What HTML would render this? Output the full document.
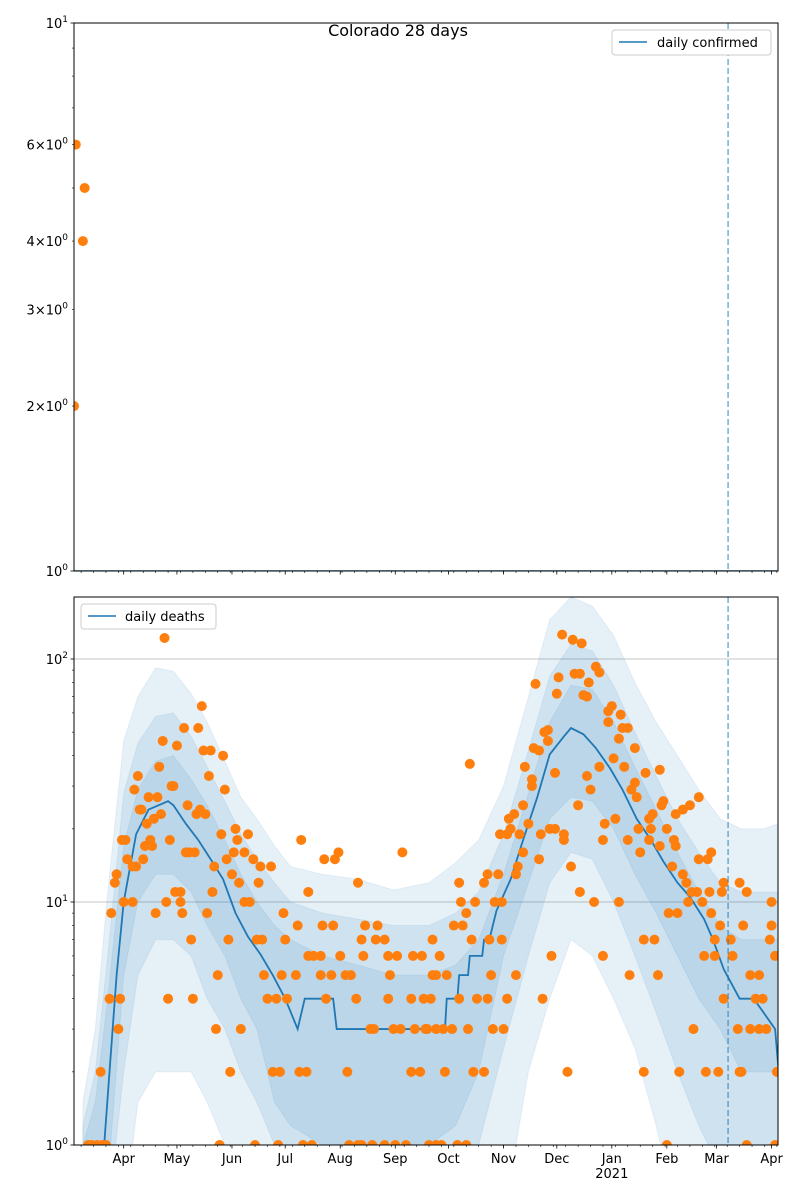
<!DOCTYPE html>
<html><head><meta charset="utf-8"><style>
body{margin:0;background:#fff}
svg{display:block;font-family:"DejaVu Sans","Liberation Sans",sans-serif}
</style></head><body>
<svg id="chart" width="800" height="1200" viewBox="0 0 800 1200" xmlns="http://www.w3.org/2000/svg">
<defs>
<clipPath id="clipTop"><rect x="74" y="23" width="704" height="548"/></clipPath>
<clipPath id="clipBot"><rect x="74" y="597" width="704" height="548"/></clipPath>
</defs>
<rect width="800" height="1200" fill="#fff"/>
<text x="398" y="36" font-size="16" text-anchor="middle">Colorado 28 days</text>
<g id="topPanel"></g>
<g id="botPanel"></g>
</svg>
<script>
// ---- data (day 0 = 2020-03-04) ----
const monthDays = [28,58,89,119,150,181,211,242,272,303,334,362,393];
const monthLabels = ["Apr","May","Jun","Jul","Aug","Sep","Oct","Nov","Dec","Jan","Feb","Mar","Apr"];
const forecastDay = 368.5;
const confirmedObs = [[0,2],[1,6],[5,4],[6,5]];
const confirmedLineDays = [0,397];
const confirmedLineVals = [1,1];
const medDays = [0,17,20,24,28,35,42,53,56,63,70,77,84,91,98,105,112,119,126,130,146,148,209,210,216,217,222,223,230,231,234,238,246,253,261,268,276,280,287,294,302,309,317,325,332,340,347,355,360,366,375,383,395,397];
const medVals = [0.5,1,2,5,10,19,24,26,25,21,18,15,12.4,9,7.2,6.1,5,4,3,4,4,3,3,4,4,5,5,6,6,7,7,9.2,12.4,18,27,40.5,48,52,49,43,35.5,29,22,18,14.7,12,10.5,8.5,7,5.3,4,4,3,2];
const bandDays = [5,12,19,28,36,46,56,66,75,85,94,103,113,122,140,160,180,200,215,228,242,256,268,280,292,304,316,328,340,352,364,376,388,397];
const outerHi = [1.5,3,11,46,70,92,89,72,55,38,27,22,17,14,13,12.4,11.2,12,14.5,18,30,70,145,180,165,125,80,55,40,29,22,20,20,21];
const midHi = [1.2,2,6,28,45,58,60,48,36,26,19,15,12,10,9,8.5,8,8,9,11,19,42,85,115,108,78,50,33,22,16,12,11,11,11];
const innerHi = [1,1.5,4,17,29,38,40,32,25,18,13,10,8,7,6,5.5,5,5,5.5,7,13,28,55,78,75,55,36,24,16,11,8,7,7,7];
const innerLo = [0.5,0.5,0.7,5,10,13,13,11,8,6,4,3,1.5,1.2,1,1,1,1,1.2,2,6,12,22,27,26,20,13,9,6,4,3,2,2,2];
const midLo = [0.5,0.5,0.5,2,5,7,7,6,4,3,2,1.5,1,0.7,0.5,0.5,0.5,0.5,0.5,1,2.5,6,12,16,15,10,6,3.5,2,1.2,0.8,0.5,0.5,0.5];
const outerLo = [0.3,0.3,0.3,0.5,1.5,2,2,2,1.5,1,0.5,0.5,0.5,0.5,0.5,0.5,0.5,0.5,0.5,0.5,0.5,2,4,7,6,4,2.5,1.2,0.5,0.5,0.5,0.5,0.5,0.5];
const deathObs = [[51,122],[72,64],[62,52],[70,52],[50,46],[58,44],[73,42],[77,42],[84,40],[48,36],[36,33],[76,33],[34,29],[85,29],[42,27],[47,27],[55,30],[56,30],[64,25],[37,24],[38,24],[49,23],[45,22],[69,23],[71,24],[74,23],[41,21],[83,19],[91,20],[98,19],[92,18],[128,18],[27,18],[29,18],[40,17],[44,17],[43,18],[54,18],[63,16],[65,16],[68,16],[90,16],[96,16],[141,15],[147,15],[149,16],[185,16],[30,15],[33,14],[35,14],[39,15],[86,15],[101,15],[105,14],[111,14],[24,13],[23,12],[79,14],[89,13],[93,12],[104,12],[160,12],[57,11],[60,11],[78,11],[132,11],[28,10],[33,10],[52,10],[60,10],[96,10],[99,10],[21,9],[46,9],[61,9],[75,9],[118,9],[126,8],[140,8],[146,8],[164,8],[171,8],[66,7],[87,7],[103,7],[106,7],[119,7],[162,7],[170,7],[175,7],[202,7],[132,6],[135,6],[139,6],[150,6],[163,6],[177,6],[182,6],[191,6],[196,6],[81,5],[107,5],[117,5],[125,5],[139,5],[145,5],[153,5],[156,5],[178,5],[202,5],[20,4],[26,4],[53,4],[67,4],[109,4],[114,4],[120,4],[142,4],[159,4],[177,4],[190,4],[197,4],[201,4],[25,3],[80,3],[94,3],[167,3],[169,3],[180,3],[184,3],[192,3],[199,3],[15,2],[88,2],[112,2],[116,2],[127,2],[131,2],[154,2],[190,2],[195,2],[8,1],[10,1],[13,1],[16,1],[18,1],[82,1],[102,1],[115,1],[129,1],[134,1],[155,1],[160,1],[162,1],[168,1],[175,1],[181,1],[187,1],[200,1],
[275,126],[281,120],[286,116],[294,93],[296,88],[273,84],[282,87],[285,87],[260,79],[290,80],[272,72],[287,71],[289,70],[303,64],[301,61],[308,59],[301,55],[309,52],[312,52],[267,51],[265,50],[307,47],[267,46],[259,43],[262,42],[316,43],[304,39],[223,37],[254,36],[310,36],[296,36],[271,34],[322,34],[330,35],[289,33],[258,32],[258,30],[316,31],[314,29],[317,27],[291,29],[253,25],[284,25],[332,26],[331,25],[352,27],[347,25],[343,24],[339,23],[248,23],[245,22],[326,23],[324,22],[305,22],[256,21],[299,21],[246,20],[240,19],[244,19],[251,19],[263,19],[268,20],[271,20],[276,19],[276,18],[318,20],[325,20],[334,20],[298,18],[312,18],[324,18],[338,18],[339,17],[330,17],[253,16],[319,16],[359,16],[352,15],[357,15],[262,15],[250,14],[249,13],[233,13],[239,13],[280,14],[337,14],[343,13],[217,12],[231,12],[345,12],[366,12],[375,12],[285,11],[348,11],[351,11],[358,11],[365,11],[379,11],[218,10],[226,10],[237,10],[241,10],[293,10],[307,10],[346,10],[354,10],[393,10],[221,9],[335,9],[340,9],[359,9],[214,8],[219,8],[364,8],[377,8],[393,8],[224,7],[234,7],[241,7],[321,7],[327,7],[361,7],[370,7],[392,7],[206,6],[269,6],[298,6],[355,6],[361,6],[371,6],[395,6],[204,5],[210,5],[235,5],[249,5],[313,5],[329,5],[381,5],[386,5],[217,4],[227,4],[233,4],[244,4],[264,4],[366,4],[384,4],[388,4],[198,3],[204,3],[208,3],[213,3],[222,3],[236,3],[242,3],[349,3],[374,3],[381,3],[386,3],[390,3],[209,2],[225,2],[231,2],[278,2],[321,2],[341,2],[356,2],[363,2],[375,2],[376,2],[396,2],[204,1],[207,1],[216,1],[221,1],[334,1],[379,1],[395,1]];

// ---- scales ----
const X0 = 74, X1 = 778, PXD = 1.775;
const xs = d => X0 + d * PXD;
const yTop = v => 571 - Math.log10(v) * 548;
const yBot = v => 1145 - Math.log10(v) * 243;
const NS = "http://www.w3.org/2000/svg";
function mk(parent, tag, attrs) {
  const e = document.createElementNS(NS, tag);
  for (const k in attrs) e.setAttribute(k, attrs[k]);
  parent.appendChild(e);
  return e;
}
const topG = document.getElementById("topPanel");
const botG = document.getElementById("botPanel");

function frame(g, y0, y1, name) {
  const r = mk(g, "rect", {x: X0, y: y0, width: X1 - X0, height: y1 - y0, fill: "none", stroke: "#000", "stroke-width": 1});
  
  
}
function xAxis(g, yb, labels) {
  for (let d = 4; d < 397; d += 7) {
    const t = mk(g, "line", {x1: xs(d), x2: xs(d), y1: yb, y2: yb + 2, stroke: "#000", "stroke-width": 0.6});
    
    
  }
  monthDays.forEach((d, i) => {
    const t = mk(g, "line", {x1: xs(d), x2: xs(d), y1: yb, y2: yb + 3.5, stroke: "#000", "stroke-width": 0.8});
    
    
    if (labels) {
      const tx = mk(g, "text", {x: xs(d), y: yb + 18, "font-size": 13, "text-anchor": "middle"});
      tx.textContent = monthLabels[i];
      
      
    }
  });
  if (labels) {
    const yr = mk(g, "text", {x: xs(303), y: yb + 33, "font-size": 13, "text-anchor": "middle"});
    yr.textContent = "2021";
    
    
  }
}
function yLabel(g, y, pre, exp) {
  const t = mk(g, "text", {x: 68, y: y + 5, "font-size": 13, "text-anchor": "end"});
  
  
  const a = document.createElementNS(NS, "tspan"); a.textContent = pre + "10"; t.appendChild(a);
  const b = document.createElementNS(NS, "tspan"); b.setAttribute("dy", -6); b.setAttribute("font-size", 9); b.textContent = exp; t.appendChild(b);
}
function yTick(g, y, major) {
  const t = mk(g, "line", {x1: X0 - (major ? 3.5 : 2), x2: X0, y1: y, y2: y, stroke: "#000", "stroke-width": major ? 0.8 : 0.6});
  
  
}
function dashed(g, y0, y1) {
  const l = mk(g, "line", {x1: xs(forecastDay), x2: xs(forecastDay), y1: y0, y2: y1, stroke: "#1f77b4", "stroke-opacity": 0.6, "stroke-width": 1.5, "stroke-dasharray": "6,3"});
  
  
}

// ---- top panel ----
for (let m = 2; m <= 9; m++) yTick(topG, yTop(m), false);
yTick(topG, yTop(1), true); yTick(topG, yTop(10), true);
yLabel(topG, yTop(10), "", "1"); yLabel(topG, yTop(1), "", "0");
[6,4,3,2].forEach(m => yLabel(topG, yTop(m), m + "×", "0"));
const tc = mk(topG, "g", {"clip-path": "url(#clipTop)"});
const cl = mk(tc, "polyline", {points: confirmedLineDays.map((d, i) => xs(d) + "," + yTop(confirmedLineVals[i])).join(" "), fill: "none", stroke: "#1f77b4", "stroke-width": 1.5});


confirmedObs.forEach(p => {
  const c = mk(tc, "circle", {cx: xs(p[0]), cy: yTop(p[1]), r: 5, fill: "#ff7f0e"});
  
  
});
dashed(topG, 23, 571);
frame(topG, 23, 571, "top-axes-frame");
xAxis(topG, 571, false);
const lt = mk(topG, "g", {});


mk(lt, "rect", {x: 612, y: 30, width: 159, height: 25, rx: 3, fill: "#fff", stroke: "#ccc"});
mk(lt, "line", {x1: 619, x2: 647, y1: 42, y2: 42, stroke: "#1f77b4", "stroke-width": 1.5});
const ltt = mk(lt, "text", {x: 657, y: 47, "font-size": 13}); ltt.textContent = "daily confirmed";

// ---- bottom panel ----
[10, 100].forEach(v => {
  const gl = mk(botG, "line", {x1: X0, x2: X1, y1: yBot(v), y2: yBot(v), stroke: "#b0b0b0", "stroke-width": 0.8});
  
  
});
const bc = mk(botG, "g", {"clip-path": "url(#clipBot)"});
function band(hi, lo, name) {
  let pts = bandDays.map((d, i) => xs(d) + "," + yBot(hi[i]));
  for (let i = bandDays.length - 1; i >= 0; i--) pts.push(xs(bandDays[i]) + "," + yBot(lo[i]));
  const p = mk(bc, "polygon", {points: pts.join(" "), fill: "#1f77b4", "fill-opacity": 0.11, stroke: "#1f77b4", "stroke-opacity": 0.08});
  
  
}
band(outerHi, outerLo, "band-outer");
band(midHi, midLo, "band-middle");
band(innerHi, innerLo, "band-inner");
const ml = mk(bc, "polyline", {points: medDays.map((d, i) => xs(d) + "," + yBot(medVals[i])).join(" "), fill: "none", stroke: "#1f77b4", "stroke-width": 1.8});


deathObs.forEach(p => {
  const c = mk(bc, "circle", {cx: xs(p[0]), cy: yBot(p[1]), r: 5, fill: "#ff7f0e"});
  
  
});
dashed(botG, 597, 1145);
frame(botG, 597, 1145, "bottom-axes-frame");
xAxis(botG, 1145, true);
[1, 10, 100].forEach(v => yTick(botG, yBot(v), true));
[2,3,4,5,6,7,8,9,20,30,40,50,60,70,80,90].forEach(v => yTick(botG, yBot(v), false));
yLabel(botG, yBot(100), "", "2"); yLabel(botG, yBot(10), "", "1"); yLabel(botG, yBot(1), "", "0");
const lb = mk(botG, "g", {});


mk(lb, "rect", {x: 81, y: 604, width: 135, height: 25, rx: 3, fill: "#fff", stroke: "#ccc"});
mk(lb, "line", {x1: 88, x2: 116, y1: 616, y2: 616, stroke: "#1f77b4", "stroke-width": 1.5});
const lbt = mk(lb, "text", {x: 125, y: 621, "font-size": 13}); lbt.textContent = "daily deaths";
</script>
</body></html>
